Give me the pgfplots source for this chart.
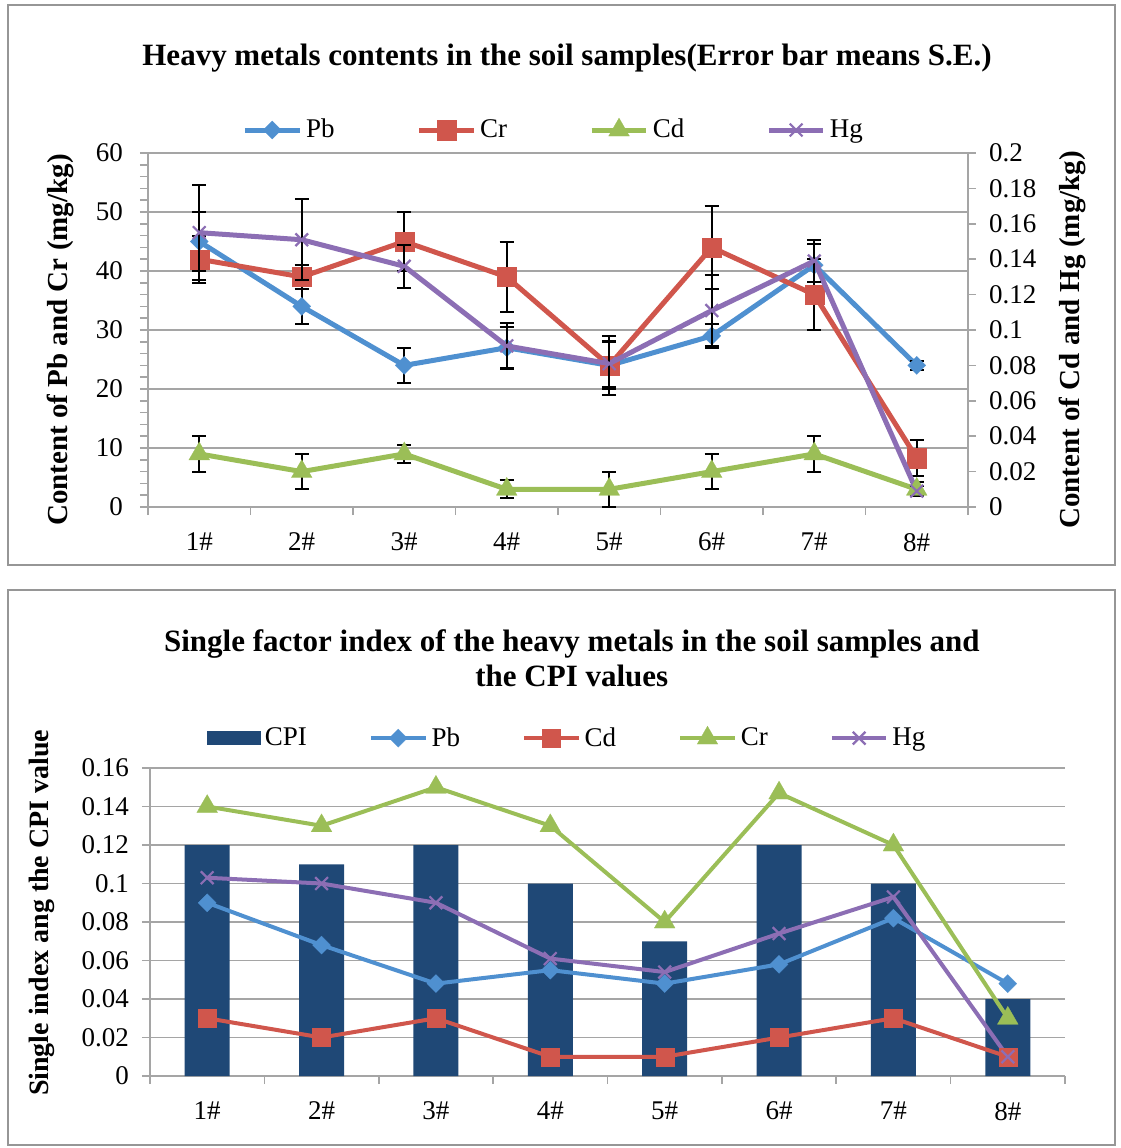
\documentclass[border=0pt]{standalone}
\usepackage{fontspec}
\setmainfont{Liberation Serif}
\usepackage{pgfplots}
\pgfplotsset{compat=1.18}
\definecolor{cPb}{RGB}{79,144,208}
\definecolor{cCr}{RGB}{208,86,76}
\definecolor{cCd}{RGB}{155,190,87}
\definecolor{cHg}{RGB}{140,110,180}
\definecolor{cCPI}{RGB}{31,72,118}
\definecolor{cGrid}{RGB}{165,165,165}
\definecolor{cFrame}{RGB}{150,150,150}
\pgfplotsset{
  every axis title shift=0pt,
  pbs/.style={cPb, line width=#1, mark=square*, mark size=3.2pt, mark options={rotate=45, solid, fill=cPb, draw=cPb, line width=0.1pt}},
  crs/.style={cCr, line width=#1, mark=square*, mark size=4.8pt, mark options={solid, fill=cCr, draw=cCr, line width=0.1pt}},
  cds/.style={cCd, line width=#1, mark=triangle*, mark size=6pt, mark options={solid, fill=cCd, draw=cCd, line width=0.1pt}},
  hgs/.style={cHg, line width=#1, mark=x, mark size=4.5pt, mark options={solid, draw=cHg, line width=1.1pt}},
  eb/.style={error bars/.cd, y dir=both, y explicit, error bar style={black, line width=1pt}, error mark options={rotate=90, black, mark size=3.5pt, line width=1pt}},
  legimg/.style={legend image code/.code={\draw[##1, mark repeat=2, mark phase=2] plot coordinates {(0cm,0cm) (0.48cm,0cm) (0.96cm,0cm)};}},
  common/.style={
    scale only axis, clip=false,
    xmin=-0.5, xmax=7.5,
    tick align=outside, major tick length=4pt, minor tick length=4pt,
    tick style={cGrid, line width=0.8pt},
    axis line style={cGrid, line width=0.8pt, -},
    grid style={cGrid, line width=0.8pt},
    tick label style={font=\fontsize{13.5}{13.5}\selectfont},
    /pgf/number format/assume math mode=true,
    yticklabel style={/pgf/number format/fixed, /pgf/number format/precision=2},
    scaled y ticks=false,
    legend cell align=left,
  }
}
\begin{document}
\begin{tikzpicture}
\path[use as bounding box] (0pt,0pt) rectangle (560.5pt,-574pt);
\draw[cFrame, line width=0.8pt] (4pt,-2.5pt) rectangle (557.5pt,-282.5pt);
\draw[cFrame, line width=0.8pt] (4pt,-295pt) rectangle (557.5pt,-572.5pt);

% ---------------- top chart, primary axis ----------------
\begin{axis}[common,
  at={(74pt,-253.5pt)}, anchor=south west, width=410pt, height=177pt,
  ymin=0, ymax=60, ytick={0,10,...,60}, minor y tick num=4,
  xtick={-0.5,0.5,...,7.5}, x tick label as interval,
  xticklabels={1\#,2\#,3\#,4\#,5\#,6\#,7\#,8\#},
  xticklabel style={yshift=-5.5pt},
  yticklabel style={xshift=-5pt},
  axis x line*=bottom, axis y line*=left, ymajorgrids,
  title={Heavy metals contents in the soil samples(Error bar means S.E.)},
  title style={at={(axis description cs:0.511,1.268)}, anchor=center, font=\bfseries\fontsize{15.5}{18}\selectfont},
  ylabel={Content of Pb and Cr (mg/kg)},
  every axis y label/.style={at={(axis description cs:-0.107,0.472)}, rotate=90, anchor=center, font=\bfseries\fontsize{14.5}{16}\selectfont},
]
\addplot[pbs=2.5pt, eb] coordinates {
 (0,45) +- (0,5) (1,34) +- (0,3) (2,24) +- (0,3) (3,27) +- (0,3.5)
 (4,24) +- (0,4) (5,29) +- (0,2) (6,41) +- (0,3.5) (7,24) +- (0,0.7)};
\addplot[crs=2.5pt, eb] coordinates {
 (0,42) +- (0,4) (1,39) +- (0,2) (2,45) +- (0,5) (3,39) +- (0,6)
 (4,24) +- (0,5) (5,44) +- (0,7) (6,36) +- (0,6) (7,8.3) +- (0,3)};
\end{axis}

% ---------------- top chart, secondary axis ----------------
\begin{axis}[common,
  at={(74pt,-253.5pt)}, anchor=south west, width=410pt, height=177pt,
  ymin=0, ymax=0.2, ytick={0,0.02,...,0.2},
  axis x line=none, axis y line*=right,
  yticklabel style={xshift=3pt},
  ylabel={Content of Cd and Hg (mg/kg)},
  every axis y label/.style={at={(axis description cs:1.127,0.472)}, rotate=90, anchor=center, font=\bfseries\fontsize{14.5}{16}\selectfont},
  legend style={at={(0.496,1.065)}, anchor=center, draw=none, fill=none,
    legend columns=4, font=\fontsize{13.5}{15}\selectfont,
    /tikz/every even column/.append style={column sep=39pt}},
]
\addlegendimage{pbs=2.5pt, legimg}
\addlegendentry{Pb}
\addlegendimage{crs=2.5pt, legimg}
\addlegendentry{Cr}
\addplot[cds=2.5pt, legimg, eb] coordinates {
 (0,0.03) +- (0,0.01) (1,0.02) +- (0,0.01) (2,0.03) +- (0,0.005) (3,0.01) +- (0,0.005)
 (4,0.01) +- (0,0.01) (5,0.02) +- (0,0.01) (6,0.03) +- (0,0.01) (7,0.01) +- (0,0.004)};
\addlegendentry{Cd}
\addplot[hgs=2.5pt, legimg, eb] coordinates {
 (0,0.155) +- (0,0.027) (1,0.151) +- (0,0.023) (2,0.136) +- (0,0.012) (3,0.091) +- (0,0.013)
 (4,0.081) +- (0,0.013) (5,0.111) +- (0,0.02) (6,0.139) +- (0,0.012) (7,0.009) +- (0,0.003)};
\addlegendentry{Hg}
\end{axis}

% ---------------- bottom chart ----------------
\begin{axis}[common,
  at={(75pt,-538pt)}, anchor=south west, width=457.5pt, height=154pt,
  ymin=0, ymax=0.16, ytick={0,0.02,...,0.16},
  xtick={-0.5,0.5,...,7.5}, x tick label as interval,
  xticklabels={1\#,2\#,3\#,4\#,5\#,6\#,7\#,8\#},
  xticklabel style={yshift=-5.5pt},
  yticklabel style={xshift=-3pt},
  axis x line*=bottom, axis y line*=left, ymajorgrids,
  title={Single factor index of the heavy metals in the soil samples and\\the CPI values},
  title style={at={(axis description cs:0.461,1.355)}, anchor=center, align=center, font=\bfseries\fontsize{15.5}{17.5}\selectfont},
  ylabel={Single index ang the CPI value},
  every axis y label/.style={at={(axis description cs:-0.118,0.53)}, rotate=90, anchor=center, font=\bfseries\fontsize{14}{16}\selectfont},
  legend style={at={(0.457,1.097)}, anchor=center, draw=none, fill=none,
    legend columns=5, font=\fontsize{13.5}{15}\selectfont,
    /tikz/every even column/.append style={column sep=29pt}},
]
\addplot[ybar, bar width=22.5pt, fill=cCPI, draw=none,
  legend image code/.code={\fill[cCPI] (0cm,-0.12cm) rectangle (0.95cm,0.12cm);}] coordinates {
 (0,0.12) (1,0.11) (2,0.12) (3,0.10) (4,0.07) (5,0.12) (6,0.10) (7,0.04)};
\addlegendentry{CPI}
\addplot[pbs=2pt, legimg] coordinates {
 (0,0.090) (1,0.068) (2,0.048) (3,0.055) (4,0.048) (5,0.058) (6,0.082) (7,0.048)};
\addlegendentry{Pb}
\addplot[crs=2pt, mark size=4.5pt, legimg] coordinates {
 (0,0.03) (1,0.02) (2,0.03) (3,0.01) (4,0.01) (5,0.02) (6,0.03) (7,0.01)};
\addlegendentry{Cd}
\addplot[cds=2pt, legimg] coordinates {
 (0,0.140) (1,0.130) (2,0.150) (3,0.130) (4,0.080) (5,0.147) (6,0.120) (7,0.030)};
\addlegendentry{Cr}
\addplot[hgs=2pt, legimg] coordinates {
 (0,0.103) (1,0.100) (2,0.090) (3,0.061) (4,0.054) (5,0.074) (6,0.093) (7,0.010)};
\addlegendentry{Hg}
\end{axis}
\end{tikzpicture}
\end{document}
